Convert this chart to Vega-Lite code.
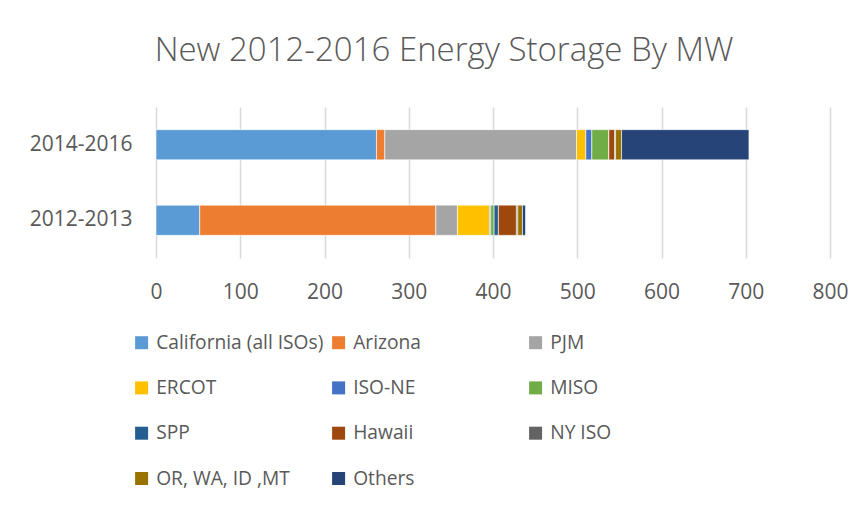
{
  "$schema": "https://vega.github.io/schema/vega-lite/v6.json",
  "autosize": {"type": "none"},
  "width": 674,
  "height": 151,
  "padding": {"left": 156, "top": 107, "right": 35, "bottom": 250},
  "background": "white",
  "title": {
    "text": "New 2012-2016 Energy Storage By MW",
    "font": "Open Sans",
    "fontSize": 33,
    "fontWeight": 300,
    "color": "#595959",
    "anchor": "middle",
    "frame": "group",
    "dx": -49,
    "baseline": "alphabetic",
    "offset": 13
  },
  "data": {
    "values": [
      {"period": "2014-2016", "region": "California (all ISOs)", "mw": 261.7, "ord": 1},
      {"period": "2014-2016", "region": "Arizona", "mw": 9.9, "ord": 2},
      {"period": "2014-2016", "region": "PJM", "mw": 227.6, "ord": 3},
      {"period": "2014-2016", "region": "ERCOT", "mw": 11, "ord": 4},
      {"period": "2014-2016", "region": "ISO-NE", "mw": 7.1, "ord": 5},
      {"period": "2014-2016", "region": "MISO", "mw": 20.2, "ord": 6},
      {"period": "2014-2016", "region": "SPP", "mw": 0, "ord": 7},
      {"period": "2014-2016", "region": "Hawaii", "mw": 6.8, "ord": 8},
      {"period": "2014-2016", "region": "NY ISO", "mw": 1.2, "ord": 9},
      {"period": "2014-2016", "region": "OR, WA, ID ,MT", "mw": 7.1, "ord": 10},
      {"period": "2014-2016", "region": "Others", "mw": 151.2, "ord": 11},
      {"period": "2012-2013", "region": "California (all ISOs)", "mw": 51.9, "ord": 1},
      {"period": "2012-2013", "region": "Arizona", "mw": 280.2, "ord": 2},
      {"period": "2012-2013", "region": "PJM", "mw": 25.7, "ord": 3},
      {"period": "2012-2013", "region": "ERCOT", "mw": 38, "ord": 4},
      {"period": "2012-2013", "region": "ISO-NE", "mw": 1.5, "ord": 5},
      {"period": "2012-2013", "region": "MISO", "mw": 4, "ord": 6},
      {"period": "2012-2013", "region": "SPP", "mw": 5.1, "ord": 7},
      {"period": "2012-2013", "region": "Hawaii", "mw": 21.4, "ord": 8},
      {"period": "2012-2013", "region": "NY ISO", "mw": 1.6, "ord": 9},
      {"period": "2012-2013", "region": "OR, WA, ID ,MT", "mw": 5.6, "ord": 10},
      {"period": "2012-2013", "region": "Others", "mw": 3.6, "ord": 11}
    ]
  },
  "mark": {"type": "bar", "stroke": "white", "strokeWidth": 0.6},
  "encoding": {
    "y": {
      "field": "period",
      "type": "nominal",
      "sort": ["2014-2016", "2012-2013"],
      "scale": {"paddingInner": 0.6, "paddingOuter": 0.3},
      "axis": {
        "title": null,
        "ticks": false,
        "domain": false,
        "labelPadding": 24,
        "labelFont": "Open Sans",
        "labelFontSize": 21,
        "labelColor": "#595959"
      }
    },
    "x": {
      "field": "mw",
      "type": "quantitative",
      "aggregate": "sum",
      "stack": "zero",
      "scale": {"domain": [0, 800], "nice": false},
      "axis": {
        "title": null,
        "values": [0, 100, 200, 300, 400, 500, 600, 700, 800],
        "ticks": false,
        "domain": false,
        "grid": true,
        "gridColor": "#D9D9D9",
        "gridWidth": 1.5,
        "labelFlush": false,
        "labelPadding": 23,
        "labelFont": "Open Sans",
        "labelFontSize": 21,
        "labelColor": "#595959"
      }
    },
    "order": {"field": "ord", "type": "quantitative", "aggregate": "min"},
    "color": {
      "field": "region",
      "type": "nominal",
      "scale": {
        "domain": ["California (all ISOs)", "Arizona", "PJM", "ERCOT", "ISO-NE", "MISO", "SPP", "Hawaii", "NY ISO", "OR, WA, ID ,MT", "Others"],
        "range": ["#5B9BD5", "#ED7D31", "#A5A5A5", "#FFC000", "#4472C4", "#70AD47", "#255E91", "#9E480E", "#636363", "#997300", "#264478"]
      },
      "legend": {
        "title": null,
        "orient": "none",
        "legendX": -24,
        "legendY": 226,
        "direction": "horizontal",
        "columns": 3,
        "gridAlign": "all",
        "columnPadding": 5,
        "rowPadding": 25.3,
        "symbolType": "square",
        "symbolSize": 169,
        "symbolStrokeWidth": 0,
        "symbolOffset": 0,
        "labelOffset": 5,
        "labelFont": "Open Sans",
        "labelFontSize": 19.2,
        "labelColor": "#595959",
        "labelLimit": 300
      }
    }
  },
  "config": {"view": {"stroke": null}}
}
